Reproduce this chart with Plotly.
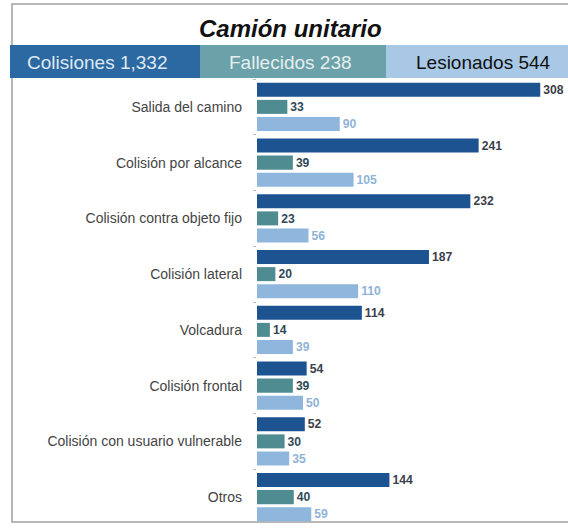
import plotly.graph_objects as go

categorias = ["Salida del camino", "Colisión por alcance", "Colisión contra objeto fijo",
              "Colisión lateral", "Volcadura", "Colisión frontal",
              "Colisión con usuario vulnerable", "Otros"]
colisiones = [308, 241, 232, 187, 114, 54, 52, 144]
fallecidos = [33, 39, 23, 20, 14, 39, 30, 40]
lesionados = [90, 105, 56, 110, 39, 50, 35, 59]

titulo = "Camión unitario"
encabezados = ["Colisiones 1,332", "Fallecidos 238", "Lesionados 544"]

W, H = 568, 529
L, R, T, B = 257, 2, 79, 4
pw, ph = W - L - R, H - T - B


def px_x(x):
    return (x - L) / pw


def px_y(y):
    return (H - B - y) / ph


fig = go.Figure()
series = [
    ("Colisiones", colisiones, "#1d5391", "#3b3f4a"),
    ("Fallecidos", fallecidos, "#4f8c92", "#2f4858"),
    ("Lesionados", lesionados, "#8fb6dd", "#8fb3d8"),
]
for name, vals, col, tcol in series:
    fig.add_trace(go.Bar(
        y=categorias, x=vals, name=name, orientation="h",
        marker=dict(color=col, line=dict(width=0)),
        text=["<b>%d</b>" % v for v in vals], textposition="outside", cliponaxis=False,
        textfont=dict(color=tcol, size=13, family="Liberation Sans"),
    ))

# encabezado de colores
cajas = [(10, 200, 97, "#2c68a1", "#dfe8f2"), (200, 386, 290, "#6ba1a8", "#e6eef0"),
         (386, 572, 483, "#a8c8e6", "#111111")]
shapes = [dict(type="rect", xref="paper", yref="paper",
               x0=px_x(12), x1=px_x(580), y0=px_y(522), y1=px_y(4),
               line=dict(color="#a0a0a0", width=1.5), fillcolor="rgba(0,0,0,0)", layer="below")]
annotations = []
for (x0, x1, xc, fill, tc), txt in zip(cajas, encabezados):
    shapes.append(dict(type="rect", xref="paper", yref="paper",
                       x0=px_x(x0), x1=px_x(x1), y0=px_y(78), y1=px_y(45),
                       line=dict(width=0), fillcolor=fill))
    annotations.append(dict(text=txt, xref="paper", yref="paper",
                            x=px_x(xc), y=px_y(63),
                            showarrow=False, xanchor="center", yanchor="middle",
                            font=dict(size=19, color=tc, family="Liberation Sans")))
annotations.append(dict(text="<b><i>" + titulo + "</i></b>", xref="paper", yref="paper",
                        x=px_x(290), y=px_y(28), showarrow=False,
                        xanchor="center", yanchor="middle",
                        font=dict(size=24, color="#111111", family="Liberation Sans")))

fig.update_layout(
    width=W, height=H,
    margin=dict(l=L, r=R, t=T, b=B),
    paper_bgcolor="white", plot_bgcolor="white",
    barmode="group", bargap=0.08, bargroupgap=0.18,
    showlegend=False,
    shapes=shapes, annotations=annotations,
    font=dict(family="Liberation Sans"),
)
fig.update_xaxes(range=[0, 336], visible=False)
fig.update_yaxes(autorange="reversed", showgrid=False, showline=False,
                 ticks="outside", tickson="boundaries", ticklen=3, tickcolor="#bbbbbb",
                 ticklabelstandoff=14,
                 tickfont=dict(size=14, color="#444444", family="Liberation Sans"))

fig.write_html("out.html", config={"displayModeBar": False},
               post_script="document.body.style.margin='0';")
